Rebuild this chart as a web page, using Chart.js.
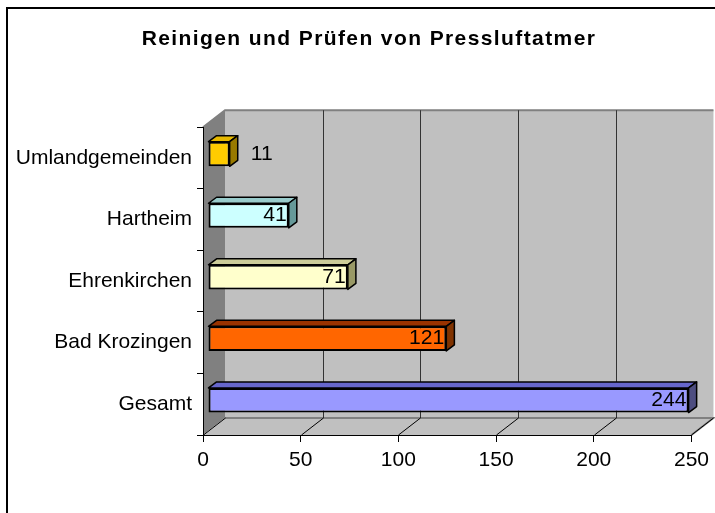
<!DOCTYPE html>
<html>
<head>
<meta charset="utf-8">
<script src="https://cdn.jsdelivr.net/npm/chart.js@4"></script>
<style>
    html, body { margin: 0; padding: 0; background: #fff; }
    canvas { display: block; }
</style>
</head>
<body>
<canvas id="myChart" width="715" height="513"></canvas>
<script>
const titleText = 'Reinigen und Prüfen von Pressluftatmer'
const categories = ['Umlandgemeinden', 'Hartheim', 'Ehrenkirchen', 'Bad Krozingen', 'Gesamt']
const values = [11, 41, 71, 121, 244]
const xTicks = [0, 50, 100, 150, 200, 250]

const frontColors = ['#FFCC00', '#CCFFFF', '#FFFFCC', '#FF6600', '#9999FF']
const topColors = ['#E6B800', '#99CCCC', '#CCCC99', '#993300', '#6666CC']
const sideColors = ['#997A00', '#669999', '#999966', '#803300', '#4D4D80']

const fontFamily = '"Liberation Sans", Arial, sans-serif'

// 3d depth of the walls and the bars, in pixels
const wallDx = 22, wallDy = -17
const barDx = 8, barDy = -6

const depthPlugin = {
    id: 'depth',
    beforeDraw(chart) {
        const ctx = chart.ctx
        const a = chart.chartArea
        const x = chart.scales.x

        // wrap the title once: wider letter spacing, centred over the whole frame
        const tb = chart.titleBlock
        if (tb && !tb._spaced) {
            const orig = tb.draw
            tb.draw = function () {
                ctx.save()
                ctx.letterSpacing = '1.4px'
                ctx.translate(22, 0)
                orig.apply(this, arguments)
                ctx.restore()
            }
            tb._spaced = true
        }

        ctx.save()
        // frame round the chart
        ctx.strokeStyle = '#000'
        ctx.lineWidth = 2
        ctx.strokeRect(7, 8, 800, 600)

        const bl = a.left + wallDx, br = a.right + wallDx
        const bt = a.top + wallDy, bb = a.bottom + wallDy

        // back wall
        ctx.fillStyle = '#C0C0C0'
        ctx.fillRect(bl, bt, br - bl, bb - bt)
        ctx.strokeStyle = '#808080'
        ctx.lineWidth = 2
        ctx.beginPath()
        ctx.moveTo(a.left, a.top)
        ctx.lineTo(bl, bt)
        ctx.lineTo(br, bt)
        ctx.stroke()

        // left wall
        ctx.fillStyle = '#808080'
        ctx.beginPath()
        ctx.moveTo(a.left, a.top)
        ctx.lineTo(bl, bt)
        ctx.lineTo(bl, bb)
        ctx.lineTo(a.left, a.bottom)
        ctx.closePath()
        ctx.fill()

        // floor
        ctx.fillStyle = '#C0C0C0'
        ctx.beginPath()
        ctx.moveTo(a.left, a.bottom)
        ctx.lineTo(a.right, a.bottom)
        ctx.lineTo(br, bb)
        ctx.lineTo(bl, bb)
        ctx.closePath()
        ctx.fill()
        ctx.strokeStyle = '#808080'
        ctx.lineWidth = 2
        ctx.beginPath()
        ctx.moveTo(bl, bb)
        ctx.lineTo(br, bb)
        ctx.lineTo(a.right, a.bottom)
        ctx.stroke()

        // grid lines on the back wall and on the floor
        ctx.lineWidth = 1
        xTicks.forEach(v => {
            const px = Math.round(x.getPixelForValue(v)) + 0.5
            if (v > 0 && v < 250) {
                ctx.strokeStyle = '#333'
                ctx.beginPath()
                ctx.moveTo(px + wallDx, bt)
                ctx.lineTo(px + wallDx, bb)
                ctx.stroke()
            }
            ctx.strokeStyle = '#000'
            ctx.beginPath()
            ctx.moveTo(px, a.bottom)
            ctx.lineTo(px + wallDx, bb)
            ctx.stroke()
        })
        ctx.restore()
    },
    beforeDatasetsDraw(chart) {
        const ctx = chart.ctx
        const a = chart.chartArea
        // bars stand a bit inside the depth, slightly bigger than the front plane
        ctx.save()
        ctx.translate(a.left + 5, -4)
        ctx.scale(1.008, 1)
        ctx.translate(-a.left, 0)
    },
    afterDatasetsDraw(chart) {
        const ctx = chart.ctx
        const meta = chart.getDatasetMeta(0)
        ctx.lineWidth = 1.5
        ctx.strokeStyle = '#000'
        ctx.lineJoin = 'round'
        meta.data.forEach((bar, i) => {
            const p = bar.getProps(['x', 'y', 'base', 'height'], true)
            const x0 = p.base, x1 = p.x
            const y0 = p.y - p.height / 2, y1 = p.y + p.height / 2

            // top face
            ctx.fillStyle = topColors[i]
            ctx.beginPath()
            ctx.moveTo(x0, y0)
            ctx.lineTo(x0 + barDx, y0 + barDy)
            ctx.lineTo(x1 + barDx, y0 + barDy)
            ctx.lineTo(x1, y0)
            ctx.closePath()
            ctx.fill()
            ctx.stroke()

            // side face
            ctx.fillStyle = sideColors[i]
            ctx.beginPath()
            ctx.moveTo(x1, y0)
            ctx.lineTo(x1 + barDx, y0 + barDy)
            ctx.lineTo(x1 + barDx, y1 + barDy)
            ctx.lineTo(x1, y1)
            ctx.closePath()
            ctx.fill()
            ctx.stroke()

            // value label
            const txt = String(values[i])
            ctx.font = '21px ' + fontFamily
            ctx.fillStyle = '#000'
            ctx.textBaseline = 'middle'
            const w = ctx.measureText(txt).width
            if (w + 4 < x1 - x0) {
                ctx.textAlign = 'right'
                ctx.fillText(txt, x1 - 2, p.y)
            } else {
                ctx.textAlign = 'left'
                ctx.fillText(txt, x1 + 21, p.y)
            }
        })
        ctx.restore()
    }
}

const ctx = document.getElementById('myChart').getContext('2d')
const chart = new Chart(ctx, {
    type: 'bar',
    data: {
        labels: categories,
        datasets: [{
            label: 'Anzahl',
            data: values,
            backgroundColor: frontColors,
            borderColor: '#000',
            borderWidth: 2,
            borderSkipped: false,
            barPercentage: 0.4,
            categoryPercentage: 1
        }]
    },
    plugins: [depthPlugin],
    options: {
        indexAxis: 'y',
        responsive: false,
        animation: false,
        layout: {
            padding: { left: 0, right: 21, top: 0, bottom: 0 }
        },
        plugins: {
            legend: { display: false },
            tooltip: { enabled: false },
            title: {
                display: true,
                text: titleText,
                color: '#000',
                font: { family: fontFamily, size: 21, weight: 'bold' },
                padding: { top: 27, bottom: 75 }
            }
        },
        scales: {
            x: {
                min: 0,
                max: 250,
                afterBuildTicks: s => { s.ticks = xTicks.map(v => ({ value: v })) },
                afterFit: s => { s.height = 78 },
                border: { display: true, color: '#000', width: 1 },
                grid: { drawOnChartArea: false, drawTicks: true, tickLength: 7, color: '#000' },
                ticks: {
                    color: '#000',
                    padding: 6,
                    font: { family: fontFamily, size: 21 }
                }
            },
            y: {
                afterFit: s => { s.width = 203 },
                border: { display: true, color: '#000', width: 1 },
                grid: { drawOnChartArea: false, drawTicks: true, tickLength: 6, color: '#000' },
                ticks: {
                    color: '#000',
                    padding: 5,
                    font: { family: fontFamily, size: 21 }
                }
            }
        }
    }
})
</script>
</body>
</html>
